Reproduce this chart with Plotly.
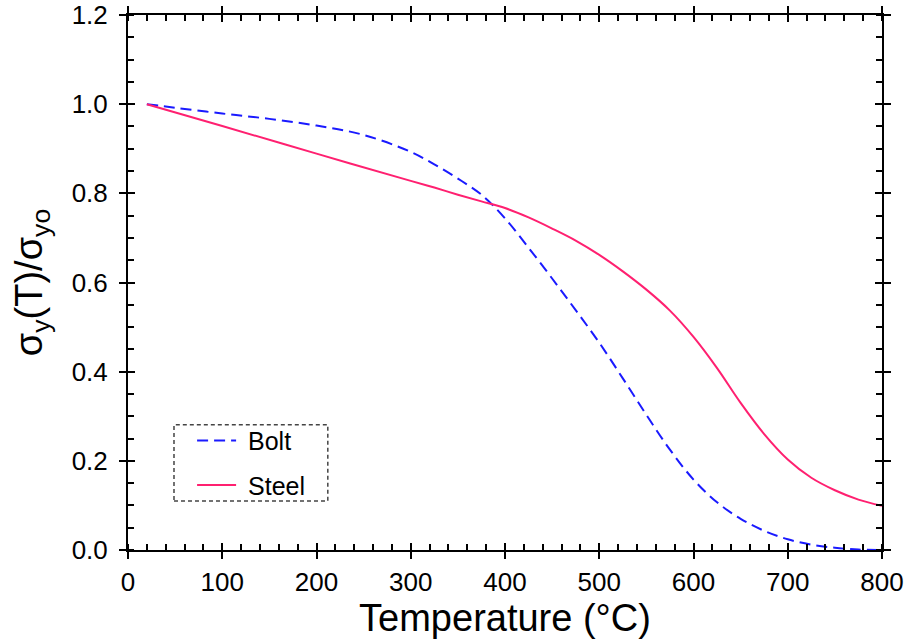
import plotly.graph_objects as go

# Data
bolt_T = [20, 50, 100, 150, 200, 250, 300, 325, 350, 375, 400, 425, 450, 475, 500,
          525, 550, 575, 600, 625, 650, 675, 700, 725, 750, 775, 800]
bolt_v = [1.0, 0.992, 0.979, 0.967, 0.952, 0.931, 0.893, 0.865, 0.833, 0.797, 0.744,
          0.678, 0.609, 0.538, 0.465, 0.385, 0.303, 0.225, 0.158, 0.107, 0.070,
          0.043, 0.024, 0.012, 0.005, 0.001, 0.0]

steel_T = [20, 100, 200, 300, 325, 350, 375, 400, 425, 450, 475, 500, 525, 550, 575,
           600, 625, 650, 675, 700, 725, 750, 775, 800]
steel_v = [1.0, 0.951, 0.889, 0.828, 0.813, 0.797, 0.782, 0.767, 0.746, 0.721, 0.694,
           0.662, 0.625, 0.584, 0.537, 0.478, 0.408, 0.330, 0.260, 0.203, 0.162, 0.134,
           0.113, 0.099]

x_ticks = [0, 100, 200, 300, 400, 500, 600, 700, 800]
y_ticks = [0.0, 0.2, 0.4, 0.6, 0.8, 1.0, 1.2]
y_ticklabels = ["0.0", "0.2", "0.4", "0.6", "0.8", "1.0", "1.2"]
series_names = ["Bolt", "Steel"]

FONT = "Liberation Sans, Arial, sans-serif"

fig = go.Figure()
fig.add_trace(go.Scatter(x=bolt_T, y=bolt_v, mode="lines", name="\u00a0" + series_names[0],
                         line=dict(color="#1a1aff", width=2, dash="11px,6px", shape="spline", smoothing=1.0),
                         legendgroup="a"))
fig.add_trace(go.Scatter(x=steel_T, y=steel_v, mode="lines", name="\u00a0" + series_names[1],
                         line=dict(color="#ff2070", width=2, shape="spline", smoothing=1.0),
                         legendgroup="b"))
# dummy trace to hold overlay axes (inside major ticks)
fig.add_trace(go.Scatter(x=[None], y=[None], xaxis="x2", yaxis="y2", showlegend=False,
                         hoverinfo="skip"))

common = dict(showgrid=False, zeroline=False, linecolor="black",
              tickcolor="black", tickwidth=2, automargin=False)

fig.update_layout(
    width=904, height=643,
    margin=dict(l=128, r=22, t=15, b=93),
    paper_bgcolor="white", plot_bgcolor="white",
    font=dict(family=FONT, color="black"),
    xaxis=dict(range=[0, 800], tickvals=x_ticks, ticks="outside", ticklen=7,
               showline=True, mirror="allticks", linewidth=2,
               minor=dict(dtick=20, ticks="inside", ticklen=6, tickcolor="black", tickwidth=2),
               tickfont=dict(size=26, family=FONT), ticklabelstandoff=1,
               title=dict(text="Temperature (°C)", font=dict(size=38, family=FONT), standoff=6),
               **common),
    yaxis=dict(range=[0, 1.2], tickvals=y_ticks, ticktext=y_ticklabels, ticks="outside", ticklen=7,
               showline=True, mirror="allticks", linewidth=2,
               minor=dict(dtick=0.05, ticks="inside", ticklen=6, tickcolor="black", tickwidth=2),
               tickfont=dict(size=26, family=FONT), ticklabelstandoff=6,
               title=dict(text="σ<sub>y</sub>(T)/σ<sub>yo</sub>", font=dict(size=38, family=FONT), standoff=17),
               **common),
    xaxis2=dict(range=[0, 800], tickvals=x_ticks, ticks="inside", ticklen=7, overlaying="x",
                showticklabels=False, showline=False, mirror="allticks", anchor="y2", **common),
    yaxis2=dict(range=[0, 1.2], tickvals=y_ticks, ticks="inside", ticklen=7, overlaying="y",
                showticklabels=False, showline=False, mirror="allticks", anchor="x2", **common),
    legend=dict(x=0.085, y=0.247, xanchor="left", yanchor="top", bgcolor="rgba(0,0,0,0)",
                borderwidth=0, font=dict(size=25, family=FONT), tracegroupgap=9,
                traceorder="grouped", itemwidth=39),
    showlegend=True,
)

fig.add_shape(type="rect", xref="paper", yref="paper", x0=0.061, x1=0.265, y0=0.0916, y1=0.234,
              line=dict(color="#444444", width=1.5, dash="4px,3px"), fillcolor="rgba(0,0,0,0)")

fig.write_html("out.html")
